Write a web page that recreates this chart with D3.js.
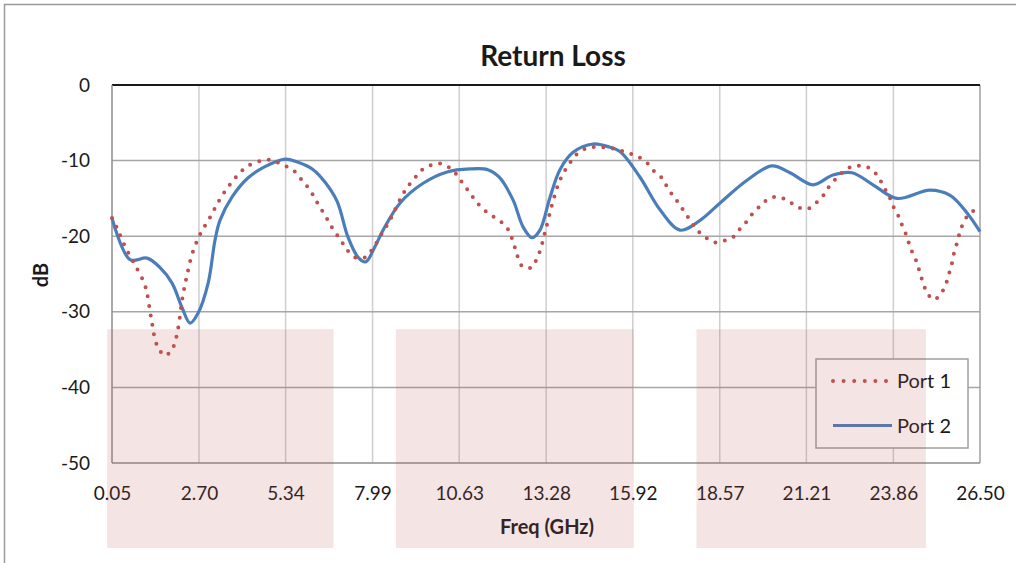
<!DOCTYPE html>
<html><head><meta charset="utf-8">
<script src="https://cdn.jsdelivr.net/npm/d3@7"></script>
<style>body{margin:0;background:#fff}svg{display:block}</style>
</head><body>
<svg id="c" width="1016" height="563"></svg>
<script>
const xTicks = ["0.05","2.70","5.34","7.99","10.63","13.28","15.92","18.57","21.21","23.86","26.50"];
const yTicks = [0,-10,-20,-30,-40,-50];
const seriesNames = ["Port 1","Port 2"];
const port1Freq = [0.05,0.20,0.45,0.75,1.03,1.12,1.25,1.42,1.67,1.91,2.05,2.21,2.34,2.49,2.73,3.04,3.34,3.71,4.16,4.77,5.08,5.38,5.63,5.84,6.03,6.21,6.36,6.54,6.69,6.87,7.06,7.21,7.46,7.76,7.97,8.28,8.52,8.74,8.92,9.07,9.28,9.50,9.77,10.07,10.35,10.56,10.75,10.96,11.14,11.36,11.60,11.88,12.09,12.22,12.32,12.42,12.58,12.85,13.00,13.12,13.20,13.28,13.43,13.61,13.73,13.88,14.07,14.25,14.55,14.86,15.20,15.50,15.80,16.08,16.35,16.57,16.81,16.97,17.15,17.33,17.51,17.70,17.88,18.12,18.40,18.70,18.98,19.19,19.40,19.59,19.83,20.07,20.35,20.65,20.92,21.23,21.50,21.71,21.89,22.11,22.32,22.60,22.90,23.21,23.42,23.57,23.73,23.85,24.00,24.12,24.24,24.34,24.46,24.58,24.67,24.77,24.89,25.10,25.34,25.47,25.56,25.65,25.71,25.80,25.89,25.99,26.20,26.50];
const port1dB = [-17.6,-18.9,-21.4,-23.8,-26.2,-27.6,-31.0,-34.4,-35.8,-34.7,-32.5,-27.8,-25.1,-22.4,-19.8,-17.5,-15.1,-12.8,-10.8,-9.9,-10.2,-10.8,-11.5,-12.6,-13.6,-14.8,-16.0,-17.2,-18.4,-19.6,-20.8,-21.8,-22.8,-22.8,-21.8,-19.6,-17.9,-15.9,-14.4,-13.4,-12.3,-11.2,-10.6,-10.4,-11.0,-11.9,-13.1,-14.3,-15.4,-16.4,-17.2,-18.0,-18.9,-20.1,-21.4,-22.8,-24.1,-24.1,-22.9,-21.6,-20.2,-18.9,-16.3,-13.6,-12.3,-11.1,-9.9,-9.0,-8.3,-8.2,-8.3,-8.6,-9.0,-9.5,-10.3,-11.4,-12.3,-13.5,-14.7,-15.7,-16.9,-18.1,-19.2,-20.1,-20.8,-20.6,-20.1,-19.0,-18.0,-16.9,-15.9,-15.0,-14.8,-15.3,-16.1,-16.4,-15.6,-14.7,-13.5,-12.4,-11.5,-10.8,-10.7,-11.2,-12.3,-13.5,-14.7,-16.0,-17.2,-18.5,-19.7,-21.0,-22.4,-23.5,-24.9,-26.2,-27.5,-28.4,-27.4,-26.2,-24.9,-23.5,-22.2,-20.9,-19.4,-18.3,-16.9,-16.4];
const port2Freq = [0.05,0.60,1.12,1.50,1.88,2.18,2.43,2.67,2.98,3.19,3.34,3.71,4.19,4.71,5.32,5.70,6.18,6.55,6.91,7.24,7.55,7.78,8.05,8.31,8.83,9.53,10.26,10.96,11.50,11.85,12.27,12.58,12.85,13.09,13.40,13.70,14.10,14.71,15.20,15.53,16.14,16.75,17.36,17.97,18.58,19.40,20.16,20.71,21.41,22.02,22.60,23.24,23.97,24.97,25.59,26.10,26.50];
const port2dB = [-17.6,-23.1,-22.9,-24.1,-26.2,-29.4,-31.5,-30.2,-26.2,-20.5,-17.9,-14.8,-12.3,-10.8,-9.8,-10.2,-11.2,-12.9,-15.4,-20.1,-22.8,-23.4,-21.5,-19.2,-15.6,-13.0,-11.5,-11.1,-11.2,-12.2,-15.2,-18.8,-20.2,-19.2,-14.8,-11.2,-8.9,-7.8,-8.2,-8.8,-12.2,-16.5,-19.2,-17.9,-15.6,-12.6,-10.7,-11.6,-13.2,-11.9,-11.6,-13.2,-15.0,-13.9,-14.6,-16.9,-19.4];
const bands = [[-0.10,6.80],[8.70,15.95],[17.86,24.85]];

const svg = d3.select("#c");
const font = "Lato, 'Open Sans', sans-serif";
const L = 112, R = 980, T = 85, B = 463;
const x = d3.scaleLinear().domain([0.05, 26.50]).range([L, R]);
const y = d3.scaleLinear().domain([-50, 0]).range([B, T]);
const xt = xTicks.map(Number);

// outer chart border
svg.append("rect").attr("x",4.5).attr("y",4.5).attr("width",1200).attr("height",1200)
  .attr("fill","none").attr("stroke","#9a9a9a").attr("stroke-width",1.5);

// gridlines
svg.append("g").selectAll("line").data(xt.slice(1,-1)).join("line")
  .attr("x1",d=>x(d)).attr("x2",d=>x(d)).attr("y1",T).attr("y2",B)
  .attr("stroke","#cfcfcf").attr("stroke-width",1.5);
svg.append("g").selectAll("line").data(yTicks.slice(1,-1)).join("line")
  .attr("x1",L).attr("x2",R).attr("y1",d=>y(d)).attr("y2",d=>y(d))
  .attr("stroke","#a6a6a6").attr("stroke-width",1.5);
// frame
svg.append("line").attr("x1",R).attr("x2",R).attr("y1",T).attr("y2",B).attr("stroke","#a0a0a0").attr("stroke-width",1.5);
svg.append("line").attr("x1",L).attr("x2",R).attr("y1",T).attr("y2",T).attr("stroke","#1a1a1a").attr("stroke-width",1.8);
svg.append("line").attr("x1",L).attr("x2",R).attr("y1",B).attr("y2",B).attr("stroke","#8c8c8c").attr("stroke-width",1.5);
svg.append("line").attr("x1",L).attr("x2",L).attr("y1",T).attr("y2",B).attr("stroke","#8c8c8c").attr("stroke-width",1.5);

// axes labels
const yAxis = d3.axisLeft(y).tickValues(yTicks).tickSize(0).tickPadding(22).tickFormat(d=>d===0?"0":String(d));
const gy = svg.append("g").attr("transform",`translate(${L},0)`).call(yAxis);
gy.select(".domain").remove();
gy.selectAll("text").attr("font-family",font).attr("font-size",19).attr("fill","#1a1a1a");
const xAxis = d3.axisBottom(x).tickValues(xt).tickSize(0).tickPadding(24).tickFormat((d,i)=>xTicks[i]);
const gx = svg.append("g").attr("transform",`translate(0,${B})`).call(xAxis);
gx.select(".domain").remove();
gx.selectAll("text").attr("font-family",font).attr("font-size",19).attr("fill","#1a1a1a");

svg.append("text").attr("x",553).attr("y",66).attr("text-anchor","middle")
  .attr("font-family",font).attr("font-weight","bold").attr("font-size",28).attr("fill","#1a1a1a").text("Return Loss");
svg.append("text").attr("x",547).attr("y",534).attr("text-anchor","middle")
  .attr("font-family",font).attr("font-weight","bold").attr("font-size",20).attr("fill","#1a1a1a").text("Freq (GHz)");
svg.append("text").attr("transform","translate(48,275) rotate(-90)").attr("text-anchor","middle")
  .attr("font-family",font).attr("font-weight","bold").attr("font-size",20).attr("fill","#1a1a1a").text("dB");

// lines
const line = d3.line().x(d=>x(d[0])).y(d=>y(d[1])).curve(d3.curveCatmullRom.alpha(0.5));
const p1 = port1Freq.map((f,i)=>[f,port1dB[i]]);
const p2 = port2Freq.map((f,i)=>[f,port2dB[i]]);
svg.append("path").attr("d",line(p2)).attr("fill","none").attr("stroke","#4a7ebb").attr("stroke-width",3.2);
svg.append("path").attr("d",line(p1)).attr("fill","none").attr("stroke","#c0504d").attr("stroke-width",4)
  .attr("stroke-linecap","round").attr("stroke-dasharray","0 9.6");

// legend
const lg = svg.append("g");
lg.append("rect").attr("x",816).attr("y",359).attr("width",152).attr("height",89)
  .attr("fill","#fff").attr("stroke","#a0a0a0").attr("stroke-width",1.5);
lg.append("line").attr("x1",833).attr("x2",887).attr("y1",381).attr("y2",381)
  .attr("stroke","#c0504d").attr("stroke-width",4).attr("stroke-linecap","round").attr("stroke-dasharray","0 10.6");
lg.append("line").attr("x1",833).attr("x2",892).attr("y1",425.5).attr("y2",425.5)
  .attr("stroke","#4a7ebb").attr("stroke-width",3.2);
lg.selectAll("text").data(seriesNames).join("text").attr("x",897).attr("y",(d,i)=>381+i*44.5).attr("dy","0.35em")
  .attr("font-family",font).attr("font-size",20).attr("fill","#1a1a1a").text(d=>d);

// shaded bands overlay
svg.append("g").selectAll("rect").data(bands).join("rect")
  .attr("x",d=>x(d[0])).attr("width",d=>x(d[1])-x(d[0])).attr("y",y(-32.3)).attr("height",548-y(-32.3))
  .attr("fill","rgb(190,90,90)").attr("fill-opacity",0.16);
</script>
</body></html>
